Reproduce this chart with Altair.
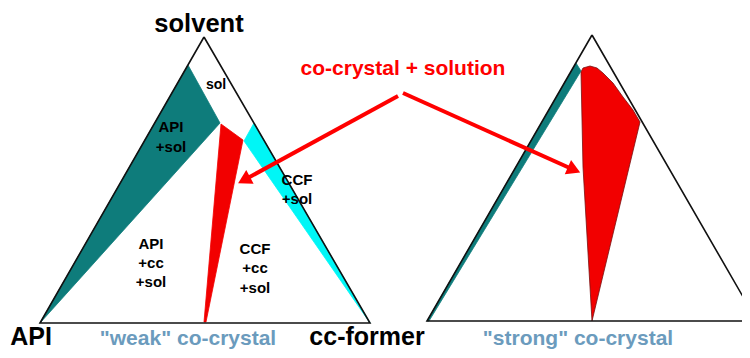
import altair as alt
import pandas as pd

# ---- data (page pixel coordinates) ----
# triangle outlines
triL_x = [204, 370, 40, 204]
triL_y = [37, 323, 323, 37]
triR_x = [592, 757, 427, 592]
triR_y = [35, 321, 321, 35]

# weak co-crystal diagram regions
tealL_x = [40, 188, 220, 40]
tealL_y = [323, 65, 123, 323]
redL_x = [221, 243, 206, 204, 221]
redL_y = [124, 140, 322, 322, 124]
cyanL_x = [254, 244, 370, 254]
cyanL_y = [123, 141, 323, 123]

# strong co-crystal diagram regions
tealR_x = [576, 581, 429, 427, 576]
tealR_y = [63, 71, 321, 321, 63]
redR_x = [581, 583, 590, 597, 603, 613, 623, 633, 640, 592, 583, 581]
redR_y = [72, 68, 66, 68, 73, 83, 97, 110, 122, 321, 167, 72]

# labels
lab_text = ["solvent", "sol", "API", "+sol", "CCF", "+sol",
            "API", "+cc", "+sol", "CCF", "+cc", "+sol"]
lab_x = [199, 216, 171, 171, 297, 297, 151, 151, 151, 255, 255, 255]
lab_y = [32, 89, 132, 152, 185, 204, 249, 268, 287, 254, 273, 293]
lab_size = [25.5, 14, 15, 15, 15, 15, 15, 15, 15, 15, 15, 15]

big_text = ["API", "cc-former"]
big_x = [31, 367]
big_y = [345, 345]

blue_text = ['"weak" co-crystal', '"strong" co-crystal']
blue_x = [188, 578]
blue_y = [345, 345]

red_text = ["co-crystal + solution"]
red_x = [403]
red_y = [75]

# arrows: start, head centre, head angle
arr_x0 = [398, 403]
arr_y0 = [96, 93]
arr_x1 = [246, 572]
arr_y1 = [179, 169]
arr_angle = [241.6, 113.9]

TEAL = "#0e7c7b"
RED = "#f20000"
CYAN = "#00f6f6"
BLUE = "#6b9bbd"

X = alt.Scale(domain=[8, 742])
Y = alt.Scale(domain=[8, 350], reverse=True)


def poly(xs, ys, color, stroke=None, sw=0.8, clip=False):
    df = pd.DataFrame({"x": xs, "y": ys, "i": range(len(xs))})
    return alt.Chart(df).mark_line(
        fill=color, stroke=stroke or color,
        strokeWidth=sw, clip=clip, strokeJoin="miter", interpolate="linear"
    ).encode(
        x=alt.X("x:Q", scale=X, axis=None),
        y=alt.Y("y:Q", scale=Y, axis=None),
        order="i:O",
    )


def outline(xs, ys):
    df = pd.DataFrame({"x": xs, "y": ys, "i": range(len(xs))})
    return alt.Chart(df).mark_line(
        stroke="#111111", strokeWidth=1.6, clip=True, strokeJoin="miter"
    ).encode(
        x=alt.X("x:Q", scale=X, axis=None),
        y=alt.Y("y:Q", scale=Y, axis=None),
        order="i:O",
    )


layers = [
    poly(tealL_x, tealL_y, TEAL),
    poly(redL_x, redL_y, RED),
    poly(cyanL_x, cyanL_y, CYAN),
    poly(tealR_x, tealR_y, TEAL),
    poly(redR_x, redR_y, RED, stroke="#7a1010", sw=0.8),
    outline(triL_x, triL_y),
    outline(triR_x, triR_y),
]

# inner labels
lab_df = pd.DataFrame({"t": lab_text, "x": lab_x, "y": lab_y, "s": lab_size})
layers.append(
    alt.Chart(lab_df).mark_text(
        font="Liberation Sans", fontWeight="bold", baseline="alphabetic",
        align="center", color="black"
    ).encode(
        x=alt.X("x:Q", scale=X, axis=None),
        y=alt.Y("y:Q", scale=Y, axis=None),
        text="t:N",
        size=alt.Size("s:Q", scale=None, legend=None),
    )
)

big_df = pd.DataFrame({"t": big_text, "x": big_x, "y": big_y})
layers.append(
    alt.Chart(big_df).mark_text(
        font="Liberation Sans", fontWeight="bold", baseline="alphabetic",
        align="center", color="black", fontSize=25
    ).encode(
        x=alt.X("x:Q", scale=X, axis=None),
        y=alt.Y("y:Q", scale=Y, axis=None),
        text="t:N",
    )
)

blue_df = pd.DataFrame({"t": blue_text, "x": blue_x, "y": blue_y})
layers.append(
    alt.Chart(blue_df).mark_text(
        font="Liberation Sans", fontWeight="bold", baseline="alphabetic",
        align="center", color=BLUE, fontSize=21
    ).encode(
        x=alt.X("x:Q", scale=X, axis=None),
        y=alt.Y("y:Q", scale=Y, axis=None),
        text="t:N",
    )
)

red_df = pd.DataFrame({"t": red_text, "x": red_x, "y": red_y})
layers.append(
    alt.Chart(red_df).mark_text(
        font="Liberation Sans", fontWeight="bold", baseline="alphabetic",
        align="center", color="#ff0000", fontSize=21
    ).encode(
        x=alt.X("x:Q", scale=X, axis=None),
        y=alt.Y("y:Q", scale=Y, axis=None),
        text="t:N",
    )
)

arr_df = pd.DataFrame({"x": arr_x0, "y": arr_y0, "x2": arr_x1, "y2": arr_y1,
                       "a": arr_angle})
layers.append(
    alt.Chart(arr_df).mark_rule(color="#ff0000", strokeWidth=4).encode(
        x=alt.X("x:Q", scale=X, axis=None),
        y=alt.Y("y:Q", scale=Y, axis=None),
        x2="x2:Q", y2="y2:Q",
    )
)
layers.append(
    alt.Chart(arr_df).mark_point(
        shape="triangle", filled=True, color="#ff0000", opacity=1, size=240
    ).encode(
        x=alt.X("x2:Q", scale=X, axis=None),
        y=alt.Y("y2:Q", scale=Y, axis=None),
        angle=alt.Angle("a:Q", scale=None),
    )
)

chart = alt.layer(*layers).properties(
    width=734, height=342, autosize=alt.AutoSizeParams(type="none"), padding=0
).configure_view(stroke=None)

chart.save("out.html", embed_options={"renderer": "svg", "actions": False})
